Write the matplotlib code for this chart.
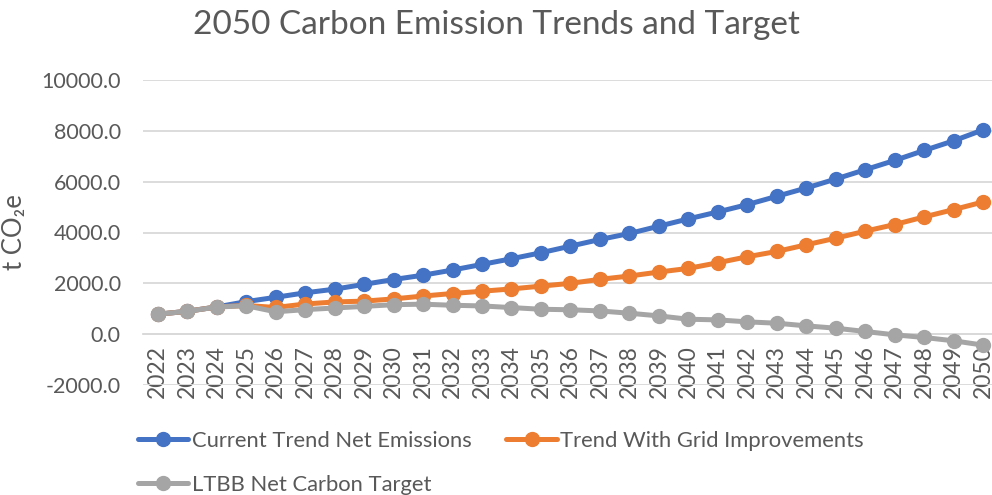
import matplotlib
matplotlib.use("Agg")
import matplotlib.pyplot as plt

years = list(range(2022, 2051))
current_trend = [784, 900, 1071, 1280, 1450, 1627, 1770, 1960, 2150, 2320,
                 2523, 2745, 2967, 3203, 3464, 3725, 3961, 4248, 4536, 4810,
                 5098, 5424, 5751, 6104, 6471, 6836, 7229, 7608, 8039]
grid_trend = [784, 900, 1071, 1130, 1050, 1187, 1267, 1300, 1387, 1500,
              1600, 1690, 1780, 1890, 2000, 2157, 2288, 2444, 2588, 2810,
              3046, 3255, 3516, 3777, 4052, 4314, 4614, 4902, 5203]
ltbb_target = [784, 900, 1067, 1120, 880, 965, 1030, 1093, 1160, 1180,
               1137, 1111, 1046, 980, 960, 914, 824, 719, 588, 562,
               484, 431, 327, 235, 105, -26, -131, -261, -431]
series_names = ["Current Trend Net Emissions", "Trend With Grid Improvements",
                "LTBB Net Carbon Target"]
colors = ["#4472C4", "#ED7D31", "#A5A5A5"]
yticks = [-2000, 0, 2000, 4000, 6000, 8000, 10000]

FONT = ["Lato", "DejaVu Sans"]
plt.rcParams["font.family"] = FONT
txt = "#595959"

fig = plt.figure(figsize=(9.92, 4.95), dpi=100)
ax = fig.add_axes([143 / 992, 1 - 385 / 495, (992 - 143) / 992, (385 - 80) / 495])

handles = []
for vals, c, name in zip([current_trend, grid_trend, ltbb_target], colors, series_names):
    h, = ax.plot(years, vals, color=c, lw=3.6, marker="o", ms=10, label=name,
                 solid_capstyle="round", zorder=3)
    handles.append(h)

for s in ["top", "right", "left"]:
    ax.spines[s].set_visible(False)
ax.spines["bottom"].set_position(("data", 0))
ax.spines["bottom"].set_color("#D9D9D9")
ax.spines["bottom"].set_linewidth(1.3)

ax.set_xlim(2021.5, 2050.3)
ax.set_ylim(-2000, 10000)
ax.set_yticks(yticks)
ax.set_yticklabels([f"{v:.1f}" for v in yticks], fontsize=15.5, color=txt)
ax.set_xticks(years)
ax.set_xticklabels([str(y) for y in years], fontsize=16.5, color=txt)
for lab in ax.get_xticklabels():
    lab.set_rotation(90)
ax.tick_params(axis="both", length=0)
ax.tick_params(axis="y", pad=16)
ax.tick_params(axis="x", pad=8)
ax.grid(axis="y", color="#D9D9D9", lw=1.3, zorder=0)
ax.set_axisbelow(True)

ax.set_ylabel("t CO\u2082e", fontsize=18.5, color=txt, labelpad=10)

fig.text(0.5, 0.95, "2050 Carbon Emission Trends and Target", ha="center", va="center",
         fontsize=24, color=txt)

leg = fig.legend([handles[0], handles[2], handles[1]],
                 [series_names[0], series_names[2], series_names[1]],
                 ncol=2, loc="upper left", bbox_to_anchor=(118 / 992, 1 - 411 / 495),
                 frameon=False, fontsize=15.8, handlelength=2.3, columnspacing=1.6,
                 labelspacing=1.1, handletextpad=0.15, labelcolor=txt)

fig.savefig("out.png", dpi=100)
